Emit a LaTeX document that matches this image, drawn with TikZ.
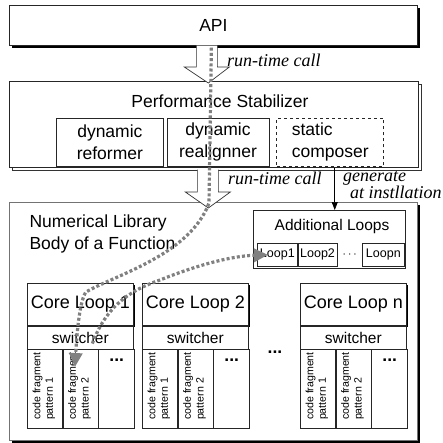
\documentclass[tikz,border=0pt]{standalone}
\usepackage{fontspec}
\setmainfont{Liberation Serif}
\setsansfont{Liberation Sans}
\usetikzlibrary{calc}
\usetikzlibrary{positioning}
\usetikzlibrary{arrows.meta}
\usetikzlibrary{shadows}

\newcommand{\hollowarrow}[2]{%
  \draw[hollow] let \p1=(#1), \p2=(#2) in
    (\x1-10.5pt,\y1) -- (\x1-10.5pt,\y2+16pt) -- (\x1-22.5pt,\y2+16pt) -- (\x2,\y2)
    -- (\x1+22.5pt,\y2+16pt) -- (\x1+10.5pt,\y2+16pt) -- (\x1+10.5pt,\y1);}
\newcommand{\fragment}[1]{\rotatebox{90}{\shortstack[l]{code fragment\\pattern #1}}}

\begin{document}
\begin{tikzpicture}[x=1pt, y=-1pt, font=\sffamily, node distance=0pt]
		\tikzstyle{box}=[draw=black!85, fill=white, rectangle, inner sep=0pt, line width=0.7pt]
		\tikzstyle{heavy}=[drop shadow={shadow xshift=2.5pt, shadow yshift=-2.5pt, fill=black, opacity=1}]
		\tikzstyle{light}=[drop shadow={shadow xshift=1.5pt, shadow yshift=-1.5pt, fill=black, opacity=1}]
		\tikzstyle{framed}=[drop shadow={shadow xshift=2.5pt, shadow yshift=-2.5pt, fill=white, draw=black!80, opacity=1}]
		\tikzstyle{bigtext}=[font=\sffamily\fontsize{17.5}{22}\selectfont]
		\tikzstyle{headtext}=[font=\sffamily\fontsize{18}{22}\selectfont]
		\tikzstyle{midtext}=[font=\sffamily\fontsize{15.5}{18}\selectfont]
		\tikzstyle{looptext}=[font=\sffamily\fontsize{12.5}{15}\selectfont]
		\tikzstyle{fragtext}=[font=\sffamily\fontsize{10.6}{14.5}\selectfont, inner sep=0pt, anchor=south]
		\tikzstyle{annot}=[font=\rmfamily\itshape\fontsize{18}{14}\selectfont, inner sep=0pt]
		\tikzstyle{hollow}=[draw=black!80, fill=white, line width=0.7pt]
		\tikzstyle{flow}=[draw=black!50, line width=3.2pt, dash pattern=on 3pt off 2.2pt, -{Triangle[length=14pt,width=13pt]}]
		\tikzstyle{genline}=[draw=black, line width=0.7pt, -{Triangle[length=8pt,width=6pt]}]

		\useasboundingbox (0,0) rectangle (443,442);

		% top part
		\node[box, heavy, bigtext, minimum width=408pt, minimum height=40pt, anchor=north west] (api) at (9,5) {API};
		\node[box, framed, minimum width=409pt, minimum height=86pt, anchor=north west] (perf) at (9,81) {};
		\node[bigtext] (stab) at (220,101) {Performance Stabilizer};
		\node[box, bigtext, align=center, minimum width=107pt, minimum height=48pt, anchor=north west] (reform) at (56,118) {dynamic\\reformer};
		\node[box, bigtext, align=center, minimum width=102pt, minimum height=48pt, right=3pt of reform] (realign) {dynamic\\realignner};
		\node[box, bigtext, dashed, align=left, minimum width=107pt, minimum height=48pt, right=7pt of realign] (compose) {static\\composer};

		% numerical library
		\node[box, heavy, draw=black!55, minimum width=408pt, minimum height=238pt, anchor=north west] (lib) at (9,202) {};
		\node[bigtext, align=left, anchor=west] (libname) at (26,234) {Numerical Library\\Body of a Function};

		\node[box, minimum width=152pt, minimum height=58pt, anchor=north west] (addl) at (253,210) {};
		\node[midtext] (addtitle) at (332,226) {Additional Loops};
		\node[box, looptext, minimum width=40pt, minimum height=23pt, anchor=north west] (loop1) at (257,243) {Loop1};
		\node[box, looptext, minimum width=39pt, minimum height=23pt, right=0pt of loop1] (loop2) {Loop2};
		\node[box, looptext, minimum width=42pt, minimum height=23pt, anchor=north west] (loopn) at (362,243) {Loopn};
		\node[looptext] (ldots) at ($(loop2.east)!0.5!(loopn.west)$) {$\cdots$};

		\foreach \i/\cx in {1/27, 2/142, n/300} {
			\node[box, light, headtext, minimum width=106pt, minimum height=42pt, anchor=north west] (core\i) at (\cx,283) {Core Loop \i};
			\node[box, midtext, minimum width=106pt, minimum height=23pt, below=0pt of core\i] (sw\i) {switcher};
			\node[box, minimum width=35pt, minimum height=79pt, below right=0pt of sw\i.south west] (f\i a) {};
			\node[box, minimum width=35pt, minimum height=79pt, right=0pt of f\i a] (f\i b) {};
			\node[box, minimum width=36pt, minimum height=79pt, right=0pt of f\i b] (f\i c) {};
			\node[fragtext] at ($(f\i a.south)+(-1,-9)$) {\fragment{1}};
			\node[fragtext] at ($(f\i b.south)+(-1,-9)$) {\fragment{2}};
			\node[bigtext, inner sep=0pt] at ($(f\i c.north)+(0,11)$) {\textbf{...}};
		}
		\node[bigtext, inner sep=0pt] (cdots) at (275,352) {\textbf{...}};

		% arrows between layers
		\coordinate (a1) at ($(api.south)+(-6.5,0)$);
		\coordinate (t1) at ($(perf.north)+(-5.5,2)$);
		\coordinate (a2) at ($(perf.south)+(-6,2)$);
		\coordinate (t2) at ($(lib.north)+(-5,6)$);
		\hollowarrow{a1}{t1}
		\hollowarrow{a2}{t2}
		\node[annot, anchor=west] (rt1) at (227,60) {run-time call};
		\node[annot, anchor=west] (rt2) at (228,178) {run-time call};

		\coordinate (g0) at ($(compose.south)+(4.5,1)$);
		\draw[genline] (g0) -- (g0 |- addl.north);
		\node[annot, anchor=west, align=left] (gen) at (343,185) {generate\\\hspace*{7pt}at instllation};

		% dotted call flow
		\coordinate (d0) at ($(api.south)+(-2,2)$);
		\coordinate (d1) at (209,203);
		\coordinate (pat) at (75,367);
		\draw[flow] (d0) -- (d1) .. controls (190,255) and (115,275) .. (86,292) .. controls (80,300) and (77,330) .. (pat);
		\coordinate (s0) at ($(sw1.center)+(12,6)$);
		\draw[flow] (s0) .. controls (105,310) and (125,292) .. (160,280) .. controls (195,266) and (230,256) .. ($(loop1.west)+(11,0)$);
\end{tikzpicture}
\end{document}
